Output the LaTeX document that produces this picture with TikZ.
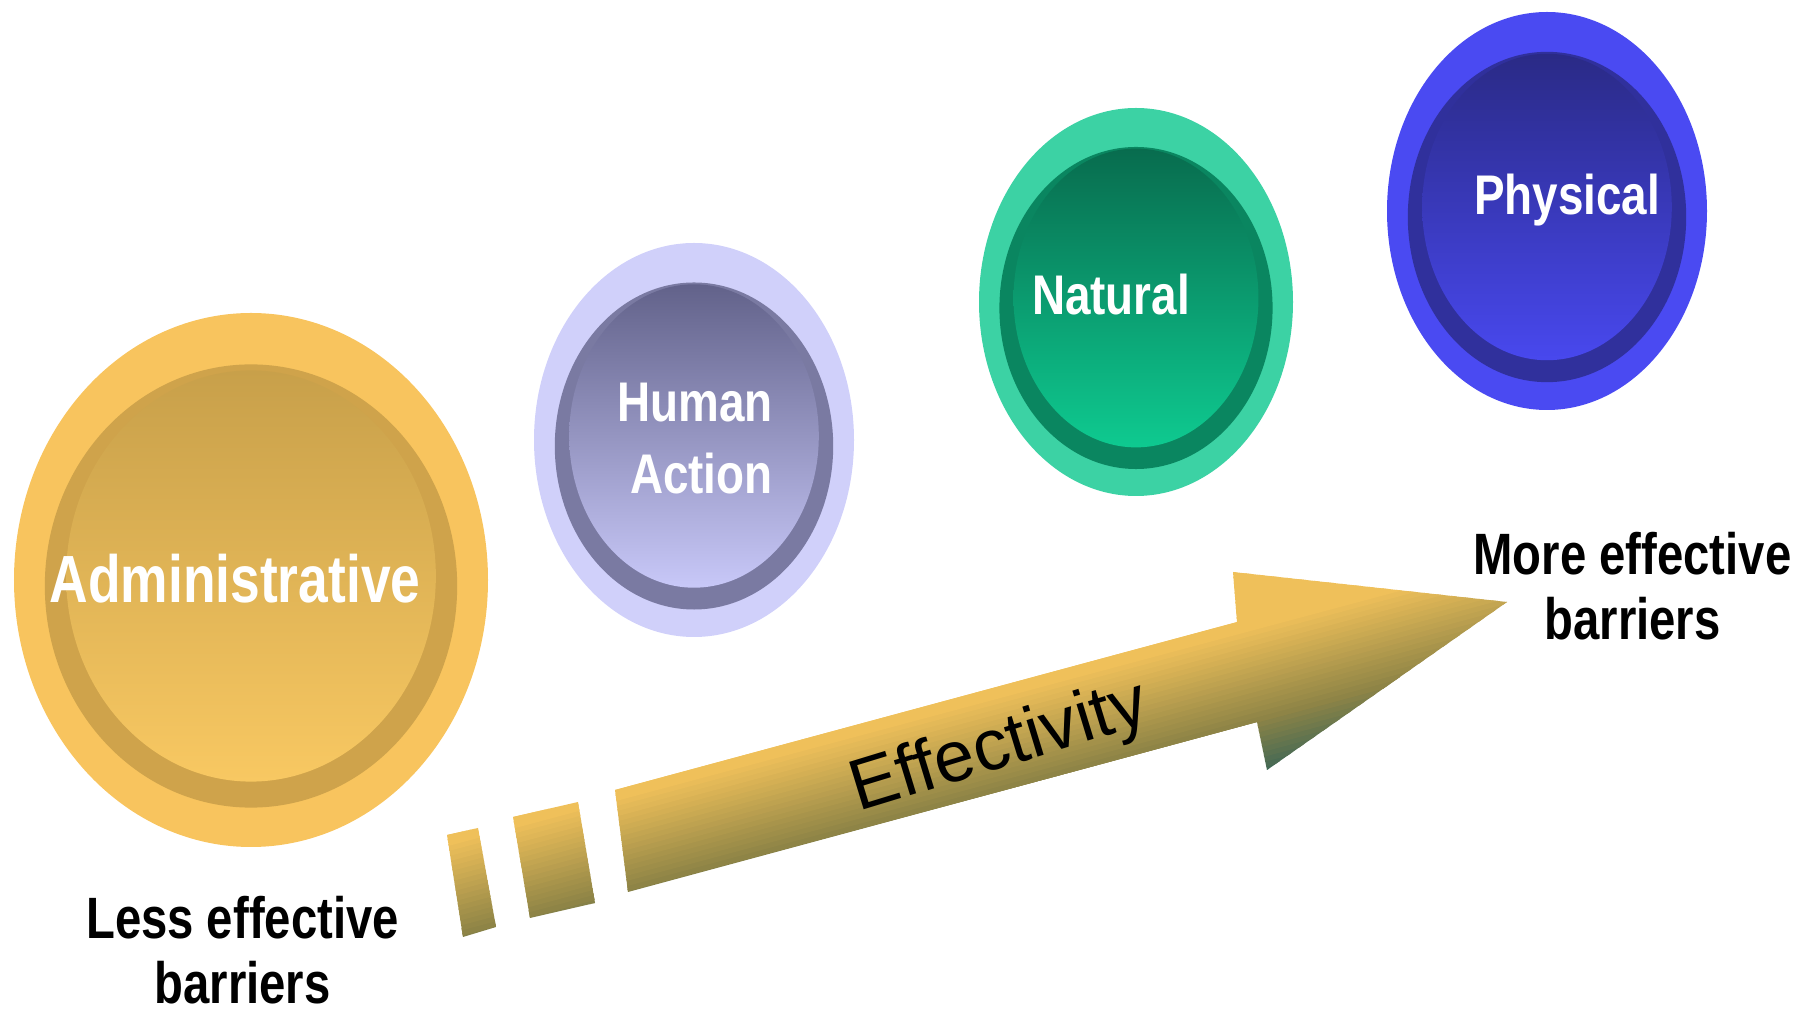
\documentclass[tikz,border=0pt]{standalone}
\usepackage{fontspec}
\setmainfont{Liberation Sans}
\usetikzlibrary{calc,shapes.geometric}

\definecolor{admOut}{HTML}{F8C45E}
\definecolor{admRing}{HTML}{CFA34B}
\definecolor{admTop}{HTML}{C8A04A}
\definecolor{admBot}{HTML}{F8C862}
\definecolor{humOut}{HTML}{D0D0FA}
\definecolor{humRing}{HTML}{7A7AA2}
\definecolor{humTop}{HTML}{62628A}
\definecolor{humBot}{HTML}{C8C8F8}
\definecolor{natOut}{HTML}{3CD2A4}
\definecolor{natRing}{HTML}{0A8660}
\definecolor{natTop}{HTML}{086C4E}
\definecolor{natBot}{HTML}{0ECA90}
\definecolor{phyOut}{HTML}{4A4AF2}
\definecolor{phyRing}{HTML}{30309C}
\definecolor{phyTop}{HTML}{2A2A86}
\definecolor{phyBot}{HTML}{4848EE}
\definecolor{effGold}{HTML}{EFC05A}
\definecolor{effOlive}{HTML}{8E8446}
\definecolor{effDark}{HTML}{3C6656}

\begin{document}
\begin{tikzpicture}[
    barrier/.style={text=white, font=\bfseries\fontsize{15.9}{20.5}\selectfont, xscale=.82, align=center, inner sep=0pt},
    effect/.style={text=black, font=\bfseries\fontsize{16.6}{18.5}\selectfont, xscale=.81, align=center, inner sep=0pt}
]
    \useasboundingbox (0,0) rectangle (18.12,-10.14);

    % Barriers as round buttons, growing up to the right
    \foreach \nm/\x/\y/\rx/\ry in {adm/2.51/-5.80/2.37/2.67, hum/6.94/-4.40/1.60/1.97, nat/11.36/-3.02/1.57/1.94, phy/15.47/-2.11/1.60/1.99} {
        \node[ellipse, fill=\nm Out, minimum width={2*\rx cm}, minimum height={2*\ry cm}, inner sep=0pt] (\nm) at (\x,\y) {};
        \fill[\nm Ring] ($(\nm)+(0,-0.06)$) ellipse ({0.87*\rx} and {0.83*\ry});
        \shade[top color=\nm Top, bottom color=\nm Bot] ($(\nm)+(0,0.04)$) ellipse ({0.78*\rx} and {0.77*\ry});
    }
    \node[barrier, font=\bfseries\fontsize{19}{22}\selectfont, xscale=.975] (adm-txt) at (2.35,-5.79) {Administrative};
    \node[barrier, align=right] (hum-txt) at (6.95,-4.39) {Human\\Action};
    \node[barrier] (nat-txt) at (11.11,-2.95) {Natural};
    \node[barrier] (phy-txt) at (15.67,-2.005) {Physical};

    % Effectivity arrow: broken tail, shaded across its width
    \begin{scope}
        \clip (4.47,-8.35) -- (4.78,-8.28) -- (4.96,-9.27) -- (4.63,-9.37) -- cycle
              (5.13,-8.17) -- (5.78,-8.02) -- (5.95,-9.03) -- (5.30,-9.18) -- cycle
              (6.15,-7.90) -- (12.37,-6.22) -- (12.33,-5.72) -- (15.07,-6.02) -- (12.67,-7.70) -- (12.57,-7.22) -- (6.28,-8.92) -- cycle;
        \begin{scope}[shift={(6.215,-8.41)}, rotate=15]
            \foreach \v in {-1.10,-1.05,...,-0.45} {
                \pgfmathtruncatemacro\pct{min(100,max(0,(\v+1.05)/0.55*100))}
                \fill[effOlive!\pct!effDark] (-2.5,\v) rectangle (9.5,\v+0.07);
            }
            \foreach \v in {-0.50,-0.45,...,1.10} {
                \pgfmathtruncatemacro\pct{min(100,max(0,(\v+0.5)/0.9*100))}
                \fill[effGold!\pct!effOlive] (-2.5,\v) rectangle (9.5,\v+0.07);
            }
        \end{scope}
    \end{scope}
    \node[rotate=17, font=\fontsize{20.5}{24}\selectfont, inner sep=0pt] (eff) at (10.0,-7.49) {Effectivity};

    % Ends of the scale
    \node[effect] (less) at (2.425,-9.50) {Less effective\\barriers};
    \node[effect] (more) at (16.325,-5.86) {More effective\\barriers};
\end{tikzpicture}
\end{document}
